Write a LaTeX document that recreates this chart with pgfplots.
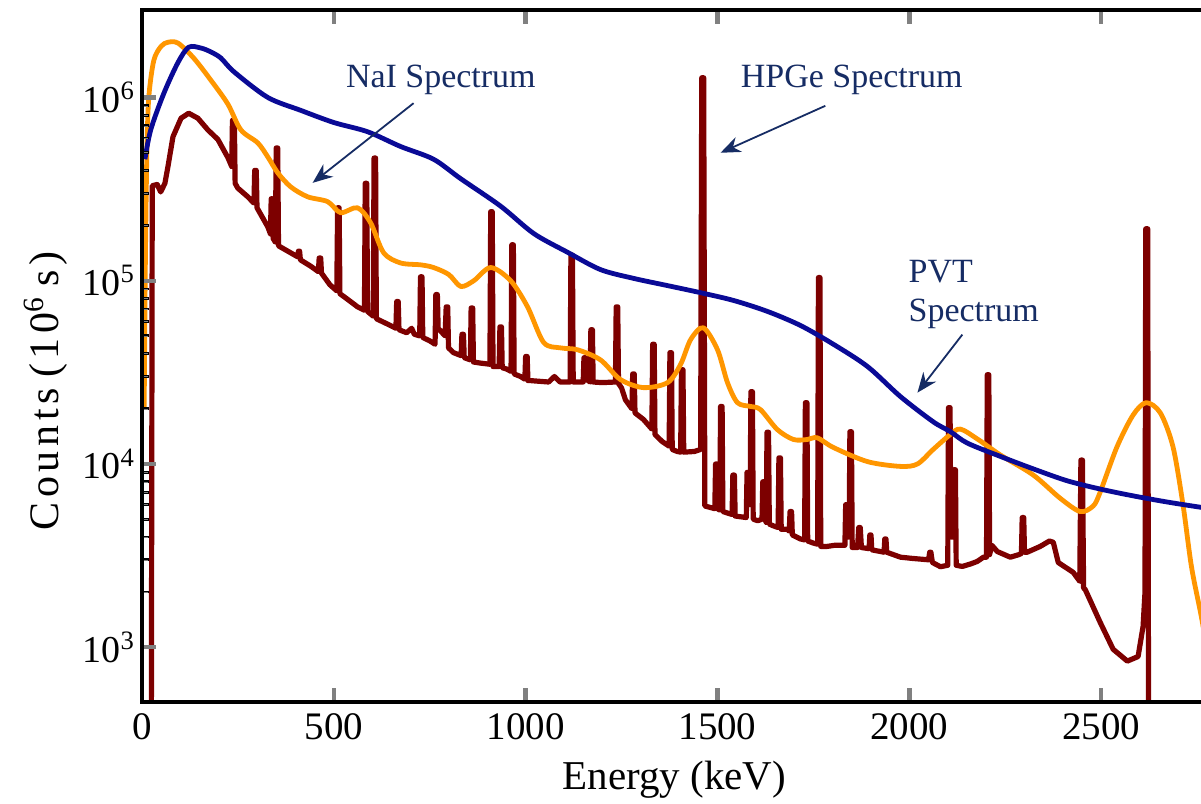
\documentclass[border=0pt]{standalone}
\usepackage{fontspec}
\setmainfont{Liberation Serif}
\usepackage{pgfplots}
\pgfplotsset{compat=1.18}
\usetikzlibrary{arrows.meta}
\definecolor{navytext}{RGB}{22,44,100}
\definecolor{pvtblue}{RGB}{10,10,150}
\definecolor{naiorange}{RGB}{255,150,0}
\definecolor{hpgered}{RGB}{125,0,0}
\begin{document}
\begin{tikzpicture}
\begin{axis}[
  name=ax,
  scale only axis, width=533pt, height=346.5pt,
  xmin=0, xmax=2775.6, ymode=log, ymin=500, ymax=3e6,
  axis on top,
  axis line style={line width=2pt, black},
  xtick={0,500,1000,1500,2000,2500},
  xticklabels={0,500,1000,1500,2000,2500},
  ytick={1e3,1e4,1e5,1e6},
  yticklabels={10\textsuperscript{3},10\textsuperscript{4},10\textsuperscript{5},10\textsuperscript{6}},
  ytick pos=left,
  tick align=inside,
  major tick length=7pt,
  every major tick/.append style={line width=2.2pt},
  xmajorgrids, ymajorgrids, yminorgrids,
  major x grid style={black, line width=2.2pt, dash pattern=on 7pt off 332.5pt on 7pt off 20pt},
  major y grid style={black, line width=2.2pt, dash pattern=on 7pt off 1000pt},
  minor y grid style={black, line width=1.4pt, dash pattern=on 3.5pt off 1000pt},
  xticklabel style={font=\fontsize{19.5}{22}\selectfont, yshift=-2pt},
  yticklabel style={font=\fontsize{19}{22}\selectfont},
  xlabel={Energy (keV)},
  ylabel={Counts\hspace{0.25em}(10\textsuperscript{6}\hspace{0.25em}s)},
  every axis x label/.style={at={(axis description cs:0.5,-0.1255)}, anchor=base, font=\fontsize{20.5}{22}\selectfont},
  every axis y label/.style={at={(axis description cs:-0.0905,0.45)}, anchor=center, rotate=90, font=\fontsize{21}{22}\selectfont\addfontfeature{LetterSpace=11}},
  clip=true,
]
% HPGe spectrum
\addplot[hpgered, line width=2.6pt, line join=round] coordinates {
(24,50) (27,3.3e5) (40,3.35e5) (49,3.05e5) (60,3.4e5) (68,4.2e5) (81,6.1e5) (102,7.7e5) (122,8.2e5) (146,7.7e5) (172,6.65e5) (198,5.9e5) (224,4.7e5) (234,4.2e5) (236,7.5e5) (241,7.5e5) (243,3.4e5) (250,3.2e5) (276,2.87e5) (292,2.65e5) (294,4.0e5) (298,4.0e5) (300,2.5e5) (328,1.97e5) (335,1.8e5) (337,2.8e5) (340,2.8e5) (342,1.7e5) (348,1.62e5) (350,5.3e5) (354,5.3e5) (356,1.55e5) (380,1.45e5) (406,1.35e5) (408,1.45e5) (411,1.45e5) (413,1.3e5) (440,1.2e5) (460,1.12e5) (462,1.33e5) (466,1.33e5) (468,1.1e5) (490,9.5e4) (508,8.8e4) (510,2.5e5) (514,2.5e5) (516,8.5e4) (540,7.8e4) (562,7.2e4) (580,6.9e4) (582,3.4e5) (586,3.4e5) (588,6.8e4) (603,6.4e4) (605,4.67e5) (609,4.67e5) (611,6.2e4) (640,5.8e4) (662,5.5e4) (664,7.7e4) (668,7.7e4) (670,5.4e4) (690,5.2e4) (703,5.5e4) (710,5.1e4) (724,5.0e4) (726,1.05e5) (730,1.05e5) (732,4.9e4) (750,4.7e4) (764,4.5e4) (766,8.4e4) (770,8.4e4) (772,5.5e4) (790,5.0e4) (793,7.2e4) (797,7.2e4) (799,4.3e4) (812,4.05e4) (832,3.9e4) (834,5.1e4) (838,5.1e4) (840,3.8e4) (856,3.7e4) (858,7.1e4) (862,7.1e4) (864,3.6e4) (883,3.55e4) (907,3.5e4) (909,2.38e5) (913,2.38e5) (915,3.4e4) (931,3.4e4) (933,5.6e4) (937,5.6e4) (939,3.35e4) (950,3.3e4) (962,3.2e4) (964,1.57e5) (968,1.57e5) (970,3.1e4) (987,3.0e4) (998,2.9e4) (1000,3.86e4) (1004,3.86e4) (1006,2.85e4) (1013,2.85e4) (1060,2.8e4) (1075,3.0e4) (1090,2.8e4) (1116,2.8e4) (1118,1.38e5) (1122,1.38e5) (1124,2.8e4) (1150,2.8e4) (1152,3.8e4) (1156,3.8e4) (1158,2.9e4) (1168,2.8e4) (1170,5.4e4) (1174,5.4e4) (1176,2.8e4) (1200,2.78e4) (1234,2.8e4) (1236,7.2e4) (1240,7.2e4) (1242,2.75e4) (1250,2.6e4) (1260,2.24e4) (1277,2.0e4) (1279,3.1e4) (1283,3.1e4) (1285,1.9e4) (1307,1.75e4) (1329,1.55e4) (1331,4.5e4) (1335,4.5e4) (1337,1.45e4) (1355,1.33e4) (1374,1.25e4) (1376,4.05e4) (1380,4.05e4) (1382,1.2e4) (1395,1.17e4) (1404,1.16e4) (1406,3.27e4) (1410,3.27e4) (1412,1.16e4) (1440,1.17e4) (1456,1.2e4) (1459,1.28e6) (1464,1.28e6) (1467,5.9e3) (1480,5.8e3) (1493,5.7e3) (1495,1.0e4) (1498,1.0e4) (1500,5.7e3) (1506,5.6e3) (1508,2.06e4) (1512,2.06e4) (1514,5.5e3) (1538,5.3e3) (1540,8.7e3) (1544,8.7e3) (1546,5.2e3) (1575,5.1e3) (1577,9e3) (1580,9e3) (1582,6e3) (1585,6e3) (1587,2.48e4) (1591,2.48e4) (1593,5e3) (1605,4.9e3) (1616,5e3) (1618,8e3) (1621,8e3) (1623,5e3) (1627,4.8e3) (1629,1.49e4) (1633,1.49e4) (1635,4.7e3) (1645,4.6e3) (1658,4.5e3) (1660,1.08e4) (1664,1.08e4) (1666,4.4e3) (1682,4.4e3) (1687,4.3e3) (1689,5.5e3) (1693,5.5e3) (1695,4.1e3) (1716,3.9e3) (1727,3.85e3) (1729,2.16e4) (1733,2.16e4) (1735,3.8e3) (1750,3.7e3) (1761,3.65e3) (1763,1.04e5) (1767,1.04e5) (1769,3.55e3) (1786,3.55e3) (1805,3.6e3) (1832,3.6e3) (1834,6e3) (1838,6e3) (1840,4e3) (1843,4e3) (1845,1.5e4) (1849,1.5e4) (1851,3.5e3) (1865,3.5e3) (1868,4.5e3) (1872,4.5e3) (1875,3.5e3) (1895,3.45e3) (1897,4.1e3) (1900,4.1e3) (1902,3.4e3) (1934,3.3e3) (1936,3.9e3) (1939,3.9e3) (1941,3.3e3) (1977,3.1e3) (2010,3.05e3) (2050,3.0e3) (2053,3.3e3) (2056,3.3e3) (2060,2.9e3) (2081,2.75e3) (2100,2.8e3) (2102,2.03e4) (2106,2.03e4) (2108,4e3) (2114,4e3) (2116,9.3e3) (2120,9.3e3) (2122,2.8e3) (2138,2.76e3) (2160,2.85e3) (2177,2.94e3) (2193,3.1e3) (2201,3.1e3) (2203,3.07e4) (2207,3.07e4) (2209,3.2e3) (2215,3.6e3) (2229,3.33e3) (2263,3.1e3) (2285,3.2e3) (2292,3.25e3) (2294,5.1e3) (2298,5.1e3) (2300,3.3e3) (2307,3.3e3) (2341,3.55e3) (2365,3.8e3) (2375,3.74e3) (2388,2.9e3) (2427,2.56e3) (2444,2.29e3) (2447,1.05e4) (2451,1.05e4) (2454,2.1e3) (2458,2.07e3) (2497,1.37e3) (2531,975) (2568,840) (2596,890) (2609,1.3e3) (2614,2e3) (2616,1.92e5) (2621,1.92e5) (2624,50)
};
% NaI spectrum
\addplot[naiorange, line width=2.4pt, line join=round, smooth] coordinates {
(6,2e4) (9,1.2e5) (13,5e5) (18,1.0e6) (31,1.59e6) (50,1.9e6) (68,2.0e6) (94,1.98e6) (135,1.64e6) (180,1.24e6) (224,9.2e5) (258,6.65e5) (302,5.65e5) (328,4.74e5) (354,3.88e5) (388,3.25e5) (432,2.87e5) (484,2.7e5) (518,2.35e5) (562,2.5e5) (596,2.07e5) (630,1.42e5) (674,1.25e5) (727,1.22e5) (760,1.18e5) (800,1.08e5) (831,9.3e4) (865,1.0e5) (909,1.18e5) (961,1.0e5) (1005,7.2e4) (1047,4.6e4) (1091,4.3e4) (1135,4.2e4) (1195,3.7e4) (1247,2.89e4) (1307,2.61e4) (1370,2.78e4) (1404,3.5e4) (1430,4.77e4) (1463,5.54e4) (1500,4.2e4) (1526,2.78e4) (1552,2.16e4) (1586,2.06e4) (1612,1.98e4) (1656,1.54e4) (1698,1.36e4) (1734,1.36e4) (1760,1.39e4) (1802,1.23e4) (1891,1.03e4) (1977,9.7e3) (2021,1.0e4) (2062,1.2e4) (2107,1.45e4) (2133,1.55e4) (2177,1.37e4) (2237,1.12e4) (2323,8.7e3) (2393,6.5e3) (2445,5.5e3) (2479,5.9e3) (2497,7.0e3) (2541,1.24e4) (2583,1.85e4) (2617,2.16e4) (2654,1.9e4) (2687,1.24e4) (2713,6.0e3) (2735,2.76e3) (2760,1.5e3) (2775,1.0e3)
};
% PVT spectrum
\addplot[pvtblue, line width=2.4pt, line join=round, smooth] coordinates {
(8,4.6e5) (23,6.65e5) (57,1.05e6) (94,1.55e6) (122,1.88e6) (154,1.86e6) (180,1.77e6) (206,1.64e6) (240,1.38e6) (328,1.0e6) (414,8.5e5) (500,7.3e5) (588,6.5e5) (674,5.4e5) (760,4.6e5) (831,3.6e5) (935,2.55e5) (1021,1.81e5) (1109,1.43e5) (1195,1.15e5) (1281,1.03e5) (1370,9.4e4) (1456,8.6e4) (1542,7.8e4) (1630,6.8e4) (1716,5.7e4) (1802,4.5e4) (1891,3.4e4) (1977,2.33e4) (2062,1.7e4) (2107,1.5e4) (2151,1.3e4) (2237,1.1e4) (2323,9.4e3) (2411,8.1e3) (2497,7.3e3) (2583,6.7e3) (2672,6.2e3) (2760,5.8e3) (2775,5.75e3)
};
% annotations
\node[anchor=base west, text=navytext, font=\fontsize{17}{20}\selectfont, inner sep=0pt] at (axis cs:531,1.13e6) {NaI Spectrum};
\node[anchor=base west, text=navytext, font=\fontsize{17}{20}\selectfont, inner sep=0pt] at (axis cs:1560,1.13e6) {HPGe Spectrum};
\node[anchor=base west, text=navytext, font=\fontsize{17}{20}\selectfont, inner sep=0pt] at (axis cs:1997,9.75e4) {PVT};
\node[anchor=base west, text=navytext, font=\fontsize{17}{20}\selectfont, inner sep=0pt] at (axis cs:1997,5.98e4) {Spectrum};
\draw[navytext, line width=0.9pt, -{Stealth[length=10pt,width=8pt]}] (axis cs:708,9.3e5) -- (axis cs:445,3.42e5);
\draw[navytext, line width=0.9pt, -{Stealth[length=10pt,width=8pt]}] (axis cs:1781,9.0e5) -- (axis cs:1508,4.99e5);
\draw[navytext, line width=0.9pt, -{Stealth[length=10pt,width=8pt]}] (axis cs:2138,5.08e4) -- (axis cs:2021,2.45e4);
\end{axis}
\pgfresetboundingbox
\path ([shift={(-71pt,-50.5pt)}]ax.south west) rectangle ([shift={(-3pt,5pt)}]ax.north east);
\end{tikzpicture}
\end{document}
